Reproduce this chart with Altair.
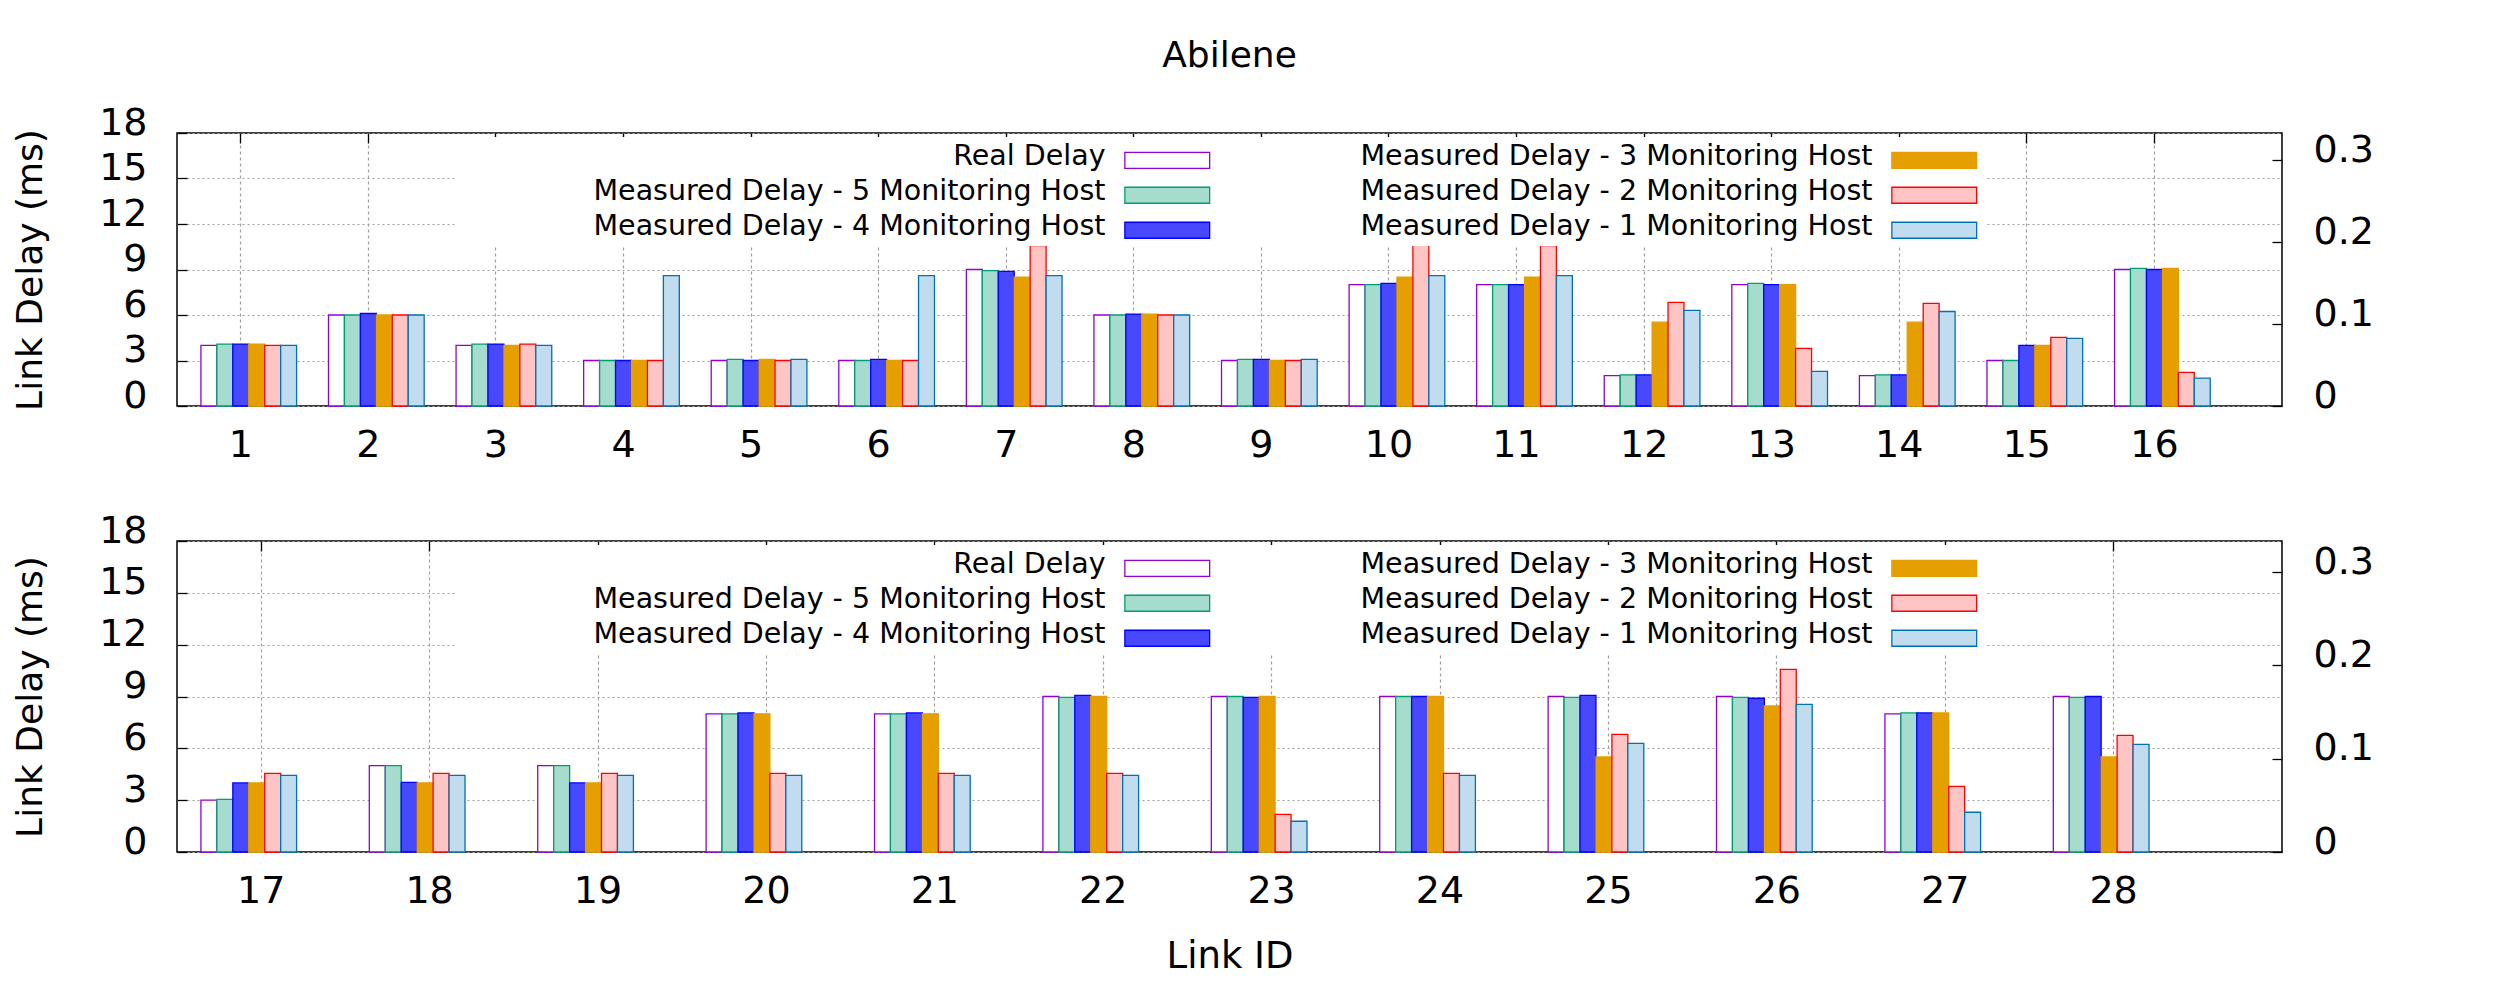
import altair as alt
import pandas as pd

links = list(range(1, 29))
series = [
    "Real Delay",
    "Measured Delay - 5 Monitoring Host",
    "Measured Delay - 4 Monitoring Host",
    "Measured Delay - 3 Monitoring Host",
    "Measured Delay - 2 Monitoring Host",
    "Measured Delay - 1 Monitoring Host",
]
real = [4.0, 6.0, 4.0, 3.0, 3.0, 3.0, 9.0, 6.0, 3.0, 8.0, 8.0, 2.0, 8.0, 2.0, 3.0, 9.0,
        3.0, 5.0, 5.0, 8.0, 8.0, 9.0, 9.0, 9.0, 9.0, 9.0, 8.0, 9.0]
mh5 = [4.08, 6.0, 4.08, 3.0, 3.08, 3.0, 8.93, 6.0, 3.08, 8.0, 8.0, 2.05, 8.08, 2.05, 3.0, 9.07,
       3.05, 5.0, 5.0, 8.0, 8.0, 8.95, 9.0, 9.0, 8.95, 8.95, 8.05, 8.95]
mh4 = [4.08, 6.1, 4.08, 3.0, 3.0, 3.08, 8.87, 6.06, 3.08, 8.08, 8.0, 2.05, 8.0, 2.05, 4.0, 9.0,
       4.0, 4.03, 4.0, 8.05, 8.05, 9.07, 8.95, 9.0, 9.07, 8.9, 8.05, 9.0]
mh3 = [4.08, 6.0, 4.0, 3.0, 3.08, 3.0, 8.5, 6.06, 3.0, 8.5, 8.5, 5.53, 8.0, 5.53, 4.0, 9.07,
       4.0, 4.0, 4.0, 8.0, 8.0, 9.0, 9.0, 9.0, 5.5, 8.45, 8.05, 5.5]
mh2 = [4.0, 6.0, 4.08, 3.0, 3.0, 3.0, 10.58, 6.0, 3.0, 10.65, 10.58, 6.83, 3.8, 6.76, 4.52, 2.22,
       4.55, 4.55, 4.55, 4.55, 4.55, 4.55, 2.18, 4.55, 6.81, 10.57, 3.8, 6.75]
mh1 = [4.0, 6.0, 4.0, 8.6, 3.08, 8.6, 8.6, 6.0, 3.08, 8.6, 8.6, 6.3, 2.28, 6.23, 4.46, 1.84,
       4.44, 4.44, 4.44, 4.44, 4.44, 4.44, 1.78, 4.44, 6.29, 8.55, 2.3, 6.23]
y_ticks = [0, 3, 6, 9, 12, 15, 18]
y2_ticks = [0, 0.1, 0.2, 0.3]

strokes = ["#9400d3", "#009e73", "#0000ff", "#e69f00", "#ff0000", "#0072b2"]
fills = ["#ffffff", "#a6dccd", "#4848ff", "#e69f00", "#ffc4c4", "#c0dcee"]

rows = []
for i, lk in enumerate(links):
    for s, vals in zip(series, [real, mh5, mh4, mh3, mh2, mh1]):
        rows.append({"link": lk, "series": s, "delay": vals[i]})
df = pd.DataFrame(rows)

FONT = "DejaVu Sans"
W = 2105


def make_legend():
    return alt.Legend(
        title="x", titleOrient="left", titleOpacity=0, titleFontSize=10, titlePadding=111,
        orient="none", legendX=278, legendY=4, columns=2, columnPadding=132, rowPadding=6,
        symbolType="M-5.3,-0.5H5.3V1.5H-5.3Z", symbolSize=256, symbolStrokeWidth=1.3,
        symbolOffset=575, labelOffset={"expr": "-76"}, labelAlign="right", labelFont=FONT,
        labelFontSize=28.5, labelLimit=0, fillColor="white", padding=5,
    )


def panel(data, H, xtitle):
    xsc = alt.Scale(paddingInner=0, paddingOuter=0.25, align=0)
    bars = alt.Chart(data).mark_bar(strokeWidth=1.3).encode(
        x=alt.X("link:O", scale=xsc, axis=alt.Axis(
            title=xtitle, labelAngle=0, ticks=False, domain=False, grid=True,
            gridColor="#a0a0a0", gridDash=[3, 3], gridWidth=1.2, bandPosition=0.5,
            labelFontSize=38, labelPadding=20, labelColor="black",
            titleFontSize=37, titleFontWeight="normal", titleY=86, titleBaseline="top",
            titleColor="black")),
        xOffset=alt.XOffset("series:N", sort=series,
                            scale=alt.Scale(paddingInner=0, paddingOuter=1, align=0.75)),
        y=alt.Y("delay:Q", scale=alt.Scale(domain=[0, 18], nice=False), axis=alt.Axis(
            title="Link Delay (ms)", values=y_ticks, grid=True, gridColor="#a0a0a0",
            gridDash=[2, 3], gridWidth=1.2, ticks=False, domain=False,
            labelFontSize=38, labelPadding=30, labelOffset=-10, labelColor="black",
            titleFontSize=36, titleFontWeight="normal", titleX=-136, titleY=H / 2,
            titleBaseline="alphabetic", titleColor="black")),
        fill=alt.Fill("series:N", scale=alt.Scale(domain=series, range=fills),
                      legend=make_legend()),
        stroke=alt.Stroke("series:N", scale=alt.Scale(domain=series, range=strokes),
                          legend=make_legend()),
    )
    ticks_l = alt.Chart(data).mark_point(opacity=0).encode(
        x=alt.X("link:O", scale=xsc, axis=alt.Axis(
            orient="bottom", offset=-H, labels=False, domain=False, grid=False,
            ticks=True, tickSize=10, tickColor="black", tickWidth=1.3, title=None,
            bandPosition=0.5)),
        y=alt.Y("delay:Q", scale=alt.Scale(domain=[0, 18], nice=False), axis=alt.Axis(
            orient="right", offset=-W, labels=False, domain=False, grid=False,
            values=y_ticks, tickSize=10, tickColor="black", tickWidth=1.3, title=None)),
    )
    y2_lab = alt.Chart(data).transform_calculate(s="datum.delay / 54").mark_point(opacity=0).encode(
        y=alt.Y("s:Q", scale=alt.Scale(domain=[0, 1 / 3], nice=False), axis=alt.Axis(
            orient="right", values=y2_ticks, format="~g", grid=False, ticks=False,
            domain=False, labelPadding=31, labelOffset=-10, labelFontSize=38,
            labelColor="black", title=None)),
    )
    y2_ticks_l = alt.Chart(data).transform_calculate(s="datum.delay / 54").mark_point(opacity=0).encode(
        y=alt.Y("s:Q", scale=alt.Scale(domain=[0, 1 / 3], nice=False), axis=alt.Axis(
            orient="left", offset=-W, labels=False, domain=False, grid=False,
            values=y2_ticks, tickSize=10, tickColor="black", tickWidth=1.3, title=None)),
    )
    return alt.layer(bars, ticks_l, y2_lab, y2_ticks_l).resolve_scale(
        y="independent").resolve_axis(x="independent", y="independent").properties(
        width=W, height=H)


top = panel(df[df.link <= 16], 273, None)
bottom = panel(df[df.link >= 17], 311, "Link ID")

chart = alt.vconcat(top, bottom, spacing=135, bounds="flush").resolve_scale(
    fill="independent", stroke="independent").resolve_legend(
    fill="independent", stroke="independent").properties(
    title=alt.Title("Abilene", font=FONT, fontSize=36, fontWeight="normal",
                    anchor="middle", frame="group", offset=28, color="black"),
    padding={"left": 3, "top": 30, "right": 20, "bottom": 10},
).configure(font=FONT).configure_view(stroke="black", strokeWidth=1.5)

chart.save("out.html", embed_options={"renderer": "svg", "actions": False})
